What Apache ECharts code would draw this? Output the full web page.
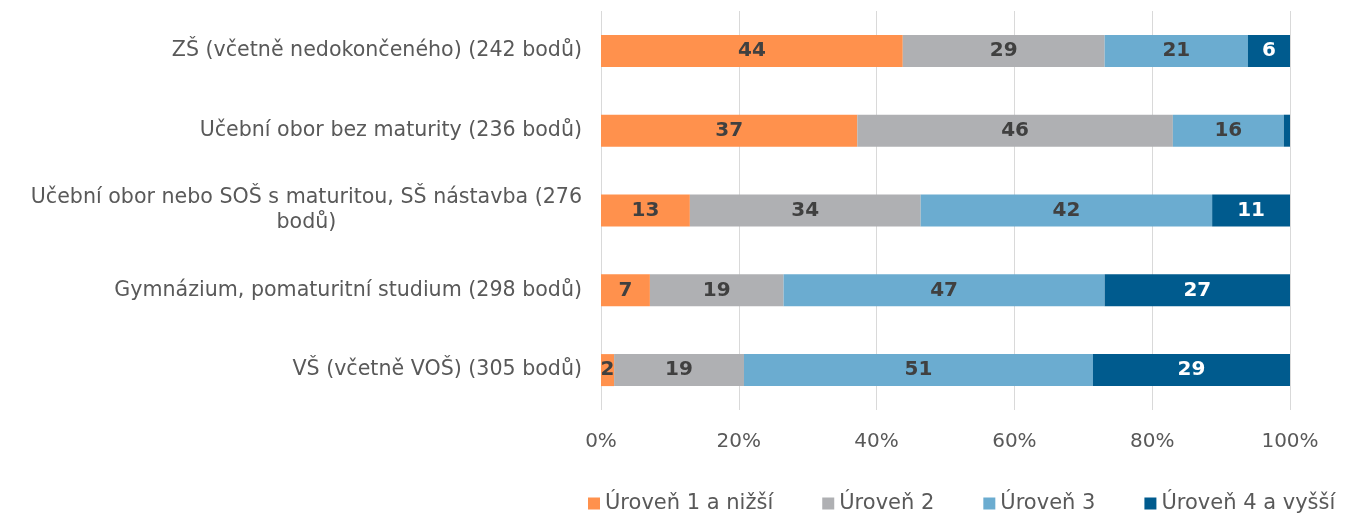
<!DOCTYPE html>
<html>
<head>
<meta charset="utf-8">
<script src="https://cdn.jsdelivr.net/npm/echarts@6/dist/echarts.min.js"></script>
<style>
  html, body { margin: 0; padding: 0; background: #fff; }
  #chart { width: 1350px; height: 515px; }
</style>
</head>
<body>
<div id="chart"></div>
<script>
// kategorie (vzdělání)
var categories = [
  'ZŠ (včetně nedokončeného) (242 bodů)',
  'Učební obor bez maturity (236 bodů)',
  'Učební obor nebo SOŠ s maturitou, SŠ nástavba (276 bodů)',
  'Gymnázium, pomaturitní studium (298 bodů)',
  'VŠ (včetně VOŠ) (305 bodů)'
];
var seriesNames = ['Úroveň 1 a nižší', 'Úroveň 2', 'Úroveň 3', 'Úroveň 4 a vyšší'];
// podíly v %
var uroven1 = [43.8, 37.2, 12.9, 7.1, 1.9];
var uroven2 = [29.3, 45.8, 33.5, 19.4, 18.85];
var uroven3 = [20.8, 16.1, 42.3, 46.6, 50.65];
var uroven4 = [6.1, 0.9, 11.3, 26.9, 28.6];
var xTicks = [0, 20, 40, 60, 80, 100];

var colors = ['#FF914D', '#AFB0B3', '#6BACD0', '#005B8E'];
var FONT = '"DejaVu Sans", sans-serif';

// sirka prvniho radku, aby se druhy radek vycentroval
var ctx = document.createElement('canvas').getContext('2d');
ctx.font = '20.6px "DejaVu Sans"';

function catLabel(value) {
  if (ctx.measureText(value).width > 590) {
    var i = value.lastIndexOf(' ');
    return value.slice(0, i) + '\n{c|' + value.slice(i + 1) + '}';
  }
  return value;
}

function makeSeries(idx, data) {
  return {
    name: seriesNames[idx],
    type: 'bar',
    stack: 'total',
    barWidth: 32,
    itemStyle: { color: colors[idx] },
    label: {
      show: true,
      position: 'inside',
      fontFamily: FONT,
      fontWeight: 'bold',
      fontSize: 20,
      color: idx === 3 ? '#ffffff' : '#404040',
      formatter: function (p) {
        return p.value < 1.5 ? '' : Math.round(p.value);
      }
    },
    emphasis: { disabled: true },
    data: data
  };
}

var chart = echarts.init(document.getElementById('chart'));
var option = {
  backgroundColor: '#ffffff',
  animation: false,
  grid: { left: 601, right: 60, top: 11, bottom: 105 },
  legend: {
    left: 583,
    top: 488,
    itemWidth: 12,
    itemHeight: 12,
    itemGap: 49,
    icon: 'rect',
    textStyle: { fontFamily: FONT, fontSize: 21, color: '#595959' },
    data: seriesNames
  },
  xAxis: {
    type: 'value',
    min: xTicks[0],
    max: xTicks[xTicks.length - 1],
    interval: xTicks[1] - xTicks[0],
    axisLine: { show: false },
    axisTick: { show: false },
    splitLine: { lineStyle: { color: '#d9d9d9', width: 1 } },
    axisLabel: {
      formatter: '{value}%',
      fontFamily: FONT,
      fontSize: 20,
      color: '#595959',
      margin: 22
    }
  },
  yAxis: {
    type: 'category',
    inverse: true,
    data: categories,
    axisLine: { show: false },
    axisTick: { show: false },
    axisLabel: {
      margin: 19,
      fontFamily: FONT,
      fontSize: 20.6,
      lineHeight: 25,
      color: '#595959',
      formatter: catLabel,
      rich: {
        c: { align: 'center', fontFamily: FONT, fontSize: 20.6, lineHeight: 25, color: '#595959' }
      }
    }
  },
  series: [
    makeSeries(0, uroven1),
    makeSeries(1, uroven2),
    makeSeries(2, uroven3),
    makeSeries(3, uroven4)
  ]
};
chart.setOption(option);
</script>
</body>
</html>
